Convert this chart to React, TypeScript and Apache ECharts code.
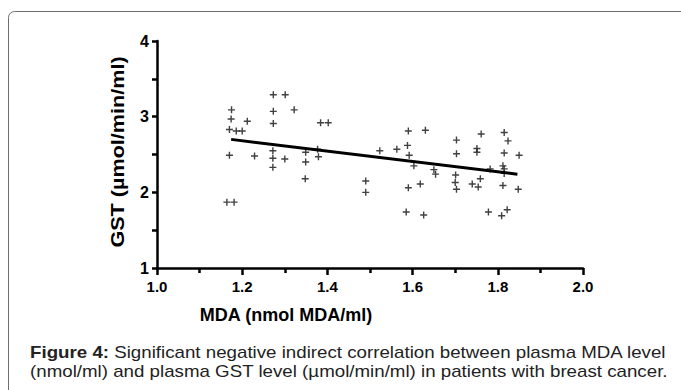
import React, { useEffect, useRef } from "react";
import * as echarts from "echarts";

const mdaValues = [
  1.175, 1.174, 1.17, 1.186, 1.2, 1.212, 1.17, 1.229, 1.273, 1.301, 1.273, 1.322, 1.273,
  1.272, 1.272, 1.3, 1.272, 1.349, 1.349, 1.348, 1.164, 1.181, 1.384, 1.402, 1.377, 1.379,
  1.49, 1.49, 1.523, 1.563, 1.59, 1.588, 1.592, 1.603, 1.59, 1.585, 1.63, 1.618, 1.626,
  1.65, 1.654, 1.703, 1.703, 1.701, 1.7, 1.703, 1.74, 1.751, 1.751, 1.761, 1.759, 1.754,
  1.778, 1.782, 1.815, 1.824, 1.815, 1.812, 1.815, 1.815, 1.812, 1.822, 1.809, 1.85, 1.848,
];
const gstValues = [
  3.09, 2.97, 2.83, 2.81, 2.81, 2.94, 2.49, 2.48, 3.29, 3.29, 3.07, 3.09, 2.91,
  2.55, 2.45, 2.44, 2.33, 2.53, 2.4, 2.18, 1.87, 1.87, 2.92, 2.92, 2.57, 2.47,
  2.15, 2.0, 2.55, 2.57, 2.81, 2.62, 2.49, 2.35, 2.06, 1.74, 2.82, 2.11, 1.7,
  2.3, 2.24, 2.69, 2.51, 2.23, 2.13, 2.04, 2.11, 2.58, 2.53, 2.77, 2.18, 2.07,
  1.74, 2.31, 2.79, 2.68, 2.52, 2.35, 2.31, 2.25, 2.09, 1.77, 1.69, 2.49, 2.04,
];
const fitX = [1.174, 1.846];
const fitY = [2.7, 2.24];

const xTitle = "MDA (nmol MDA/ml)";
const yTitle = "GST (\u00b5mol/min/ml)";
const captionBold = "Figure 4:";
const captionLine1 = " Significant negative indirect correlation between plasma MDA level";
const captionLine2 = "(nmol/ml) and plasma GST level (\u00b5mol/min/ml) in patients with breast cancer.";

const FONT = "Liberation Sans, Arial, Helvetica, sans-serif";
const PLUS = "path://M4,0h2v4h4v2h-4v4h-2v-4h-4v-2h4z";

export default function App() {
  const ref = useRef<HTMLDivElement>(null);
  useEffect(() => {
    if (!ref.current) return;
    const chart = echarts.init(ref.current, undefined, { renderer: "svg" });
    const points = mdaValues.map((x, i) => [x, gstValues[i]]);
    const fit = fitX.map((x, i) => [x, fitY[i]]);
    chart.setOption({
      animation: false,
      backgroundColor: "#fff",
      grid: { left: 157, right: 98, top: 41, bottom: 122, containLabel: false },
      xAxis: {
        type: "value",
        min: 1,
        max: 2,
        interval: 0.2,
        axisLine: { show: true, lineStyle: { color: "#000", width: 2.5 } },
        axisTick: { show: true, length: 7, lineStyle: { color: "#000", width: 2.5 } },
        minorTick: { show: true, splitNumber: 2, length: 5, lineStyle: { color: "#000", width: 2.5 } },
        splitLine: { show: false },
        axisLabel: {
          margin: 11,
          color: "#000",
          fontFamily: FONT,
          fontWeight: "bold",
          fontSize: 15,
          formatter: (v: number) => v.toFixed(1),
        },
      },
      yAxis: {
        type: "value",
        min: 1,
        max: 4,
        interval: 1,
        axisLine: { show: true, lineStyle: { color: "#000", width: 2.5 } },
        axisTick: { show: true, length: 5, lineStyle: { color: "#000", width: 2.5 } },
        minorTick: { show: true, splitNumber: 2, length: 5, lineStyle: { color: "#000", width: 2.5 } },
        splitLine: { show: false },
        axisLabel: {
          margin: 8,
          color: "#000",
          fontFamily: FONT,
          fontWeight: "bold",
          fontSize: 16,
        },
      },
      series: [
        {
          type: "scatter",
          data: points,
          symbol: PLUS,
          symbolSize: 7,
          itemStyle: { color: "#111" },
          silent: true,
        },
        {
          type: "line",
          data: fit,
          showSymbol: false,
          symbol: "none",
          lineStyle: { color: "#000", width: 3 },
          silent: true,
        },
      ],
      graphic: [
        {
          type: "rect",
          shape: { x: 8.5, y: 11.5, width: 720, height: 420, r: [6, 0, 0, 0] },
          style: { fill: "none", stroke: "#6f6f6f", lineWidth: 1 },
          silent: true,
          z: -1,
        },
        {
          type: "text",
          x: 118,
          y: 152,
          rotation: Math.PI / 2,
          scaleX: 1.2,
          style: {
            text: yTitle,
            fontFamily: FONT,
            fontWeight: "bold",
            fontSize: 18,
            fill: "#000",
            align: "center",
            verticalAlign: "middle",
          },
        },
        {
          type: "text",
          x: 286,
          y: 315,
          style: {
            text: xTitle,
            fontFamily: FONT,
            fontWeight: "bold",
            fontSize: 18,
            fill: "#000",
            align: "center",
            verticalAlign: "middle",
          },
        },
        {
          type: "text",
          x: 30,
          y: 343,
          scaleX: 1.17,
          style: {
            text: "{b|" + captionBold + "}{n|" + captionLine1 + "}\n{n|" + captionLine2 + "}",
            rich: {
              b: { fontFamily: FONT, fontWeight: "bold", fontSize: 16, lineHeight: 19, fill: "#222" },
              n: { fontFamily: FONT, fontSize: 16, lineHeight: 19, fill: "#222" },
            },
            fontFamily: FONT,
            fontSize: 16,
            lineHeight: 19,
            fill: "#222",
          },
        },
      ],
    });
    return () => chart.dispose();
  }, []);
  return <div ref={ref} style={{ width: 681, height: 390, position: "absolute", left: 0, top: 0 }} />;
}
